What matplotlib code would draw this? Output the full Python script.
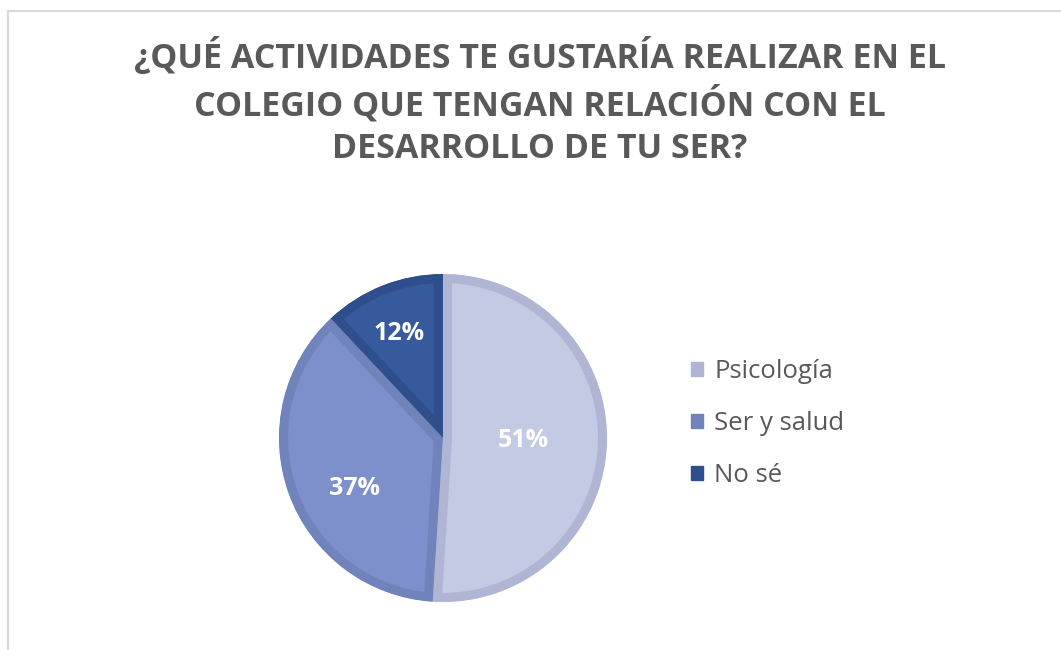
import matplotlib
matplotlib.use("Agg")
import matplotlib.pyplot as plt
import numpy as np
from matplotlib.patches import Patch

categories = ["Psicología", "Ser y salud", "No sé"]
values = [51, 37, 12]
fill_colors = ["#C3CAE4", "#7E90CB", "#365A9B"]
edge_colors = ["#AFB5D3", "#7083BA", "#2F4F8C"]
label_dist = [0.49, 0.62, 0.69]
label_angle_shift = [0, 10, 1.5]
title = "¿QUÉ ACTIVIDADES TE GUSTARÍA REALIZAR EN EL\nCOLEGIO QUE TENGAN RELACIÓN CON EL\nDESARROLLO DE TU SER?"

W, H = 1061, 650
fig = plt.figure(figsize=(W / 100, H / 100), dpi=100)
fig.patch.set_facecolor("white")

# frame lines (top & left)
fig.add_artist(plt.Line2D([8 / W, 1.0], [1 - 11 / H, 1 - 11 / H], color="#D9D9D9", lw=1.5))
fig.add_artist(plt.Line2D([8 / W, 8 / W], [0, 1 - 11 / H], color="#D9D9D9", lw=1.5))

fig.text(540 / W, 1 - 102 / H, title, ha="center", va="center", fontsize=24.5,
         fontweight="bold", color="#595959", family="Open Sans", linespacing=1.33)

cx, cy, R = 443, 438, 164
ax = fig.add_axes([(cx - R - 4) / W, 1 - (cy + R + 4) / H, 2 * (R + 4) / W, 2 * (R + 4) / H])

wedges, _ = ax.pie(values, colors=fill_colors, startangle=90, counterclock=False, radius=1.0)
lim = (R + 4) / R
ax.set_xlim(-lim, lim)
ax.set_ylim(-lim, lim)
ax.set_aspect("equal")
ax.axis("off")
for w, ec in zip(wedges, edge_colors):
    w.set_edgecolor(ec)
    w.set_linewidth(13)
    w.set_clip_on(True)
    w.set_clip_path(w.get_path(), ax.transData)

for w, v, d, s in zip(wedges, values, label_dist, label_angle_shift):
    ang = np.deg2rad((w.theta1 + w.theta2) / 2 + s)
    ax.text(d * np.cos(ang), d * np.sin(ang), f"{v}%", ha="center", va="center",
            color="white", fontsize=18, fontweight="bold", family="Open Sans")

handles = [Patch(facecolor=c, edgecolor=c) for c in edge_colors]
leg = fig.legend(handles, categories, loc="upper left", bbox_to_anchor=(668 / W, 1 - 336 / H),
                 frameon=False, handlelength=0.45, handleheight=0.45,
                 handletextpad=0.45, labelspacing=1.05, prop={"family": "Open Sans", "size": 18.5})
for t in leg.get_texts():
    t.set_color("#595959")

fig.savefig("out.png", dpi=100)
